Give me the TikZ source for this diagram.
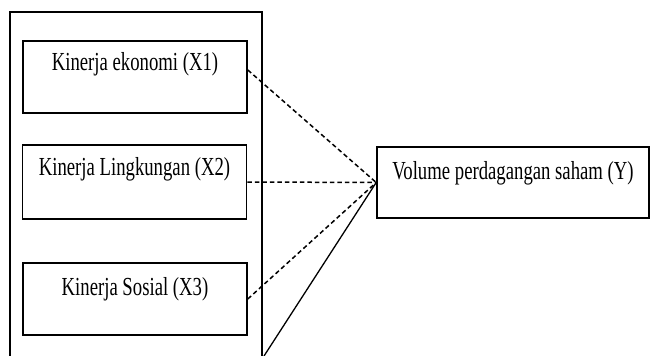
\documentclass[tikz,border=0pt]{standalone}
\usepackage{fontspec}
\setmainfont[FakeStretch=0.72]{Liberation Serif}
\usetikzlibrary{positioning}

\tikzset{
  varbox/.style={draw, line width=1.6pt, minimum width=224pt, minimum height=72pt,
    inner sep=0pt, font=\fontsize{26}{30}\selectfont, text height=13pt, text depth=27pt},
  ybox/.style={varbox, minimum width=272pt, minimum height=71pt, text depth=20pt},
  link/.style={line width=1.5pt, dash pattern=on 4.5pt off 3pt}
}

\begin{document}
\begin{tikzpicture}[x=1pt,y=-1pt]
\useasboundingbox (0,0) rectangle (651,356);

\coordinate (BL) at (10,356);
\coordinate (TL) at (10,12);
\coordinate (TR) at (262,12);
\coordinate (BR) at (262,356);
\coordinate (cut) at (264,356);

\draw[line width=1.3pt] (BL)--(TL)--(TR)--(BR);

\node[varbox] (x1) at (135,77) {Kinerja ekonomi (X1)};
\node[varbox, minimum height=74pt, text depth=25.5pt] (x2) at (134.5,182) {Kinerja Lingkungan (X2)};
\node[varbox, text depth=21pt] (x3) at (135,299) {Kinerja Sosial (X3)};
\node[ybox] (y) at (513,182.5) {Volume perdagangan saham (Y)};

\draw[link] ([yshift=7pt]x1.east) -- (y.west);
\draw[link] (x2.east) -- (y.west);
\draw[link] (x3.east) -- (y.west);
\draw[line width=1.3pt] (y.west) -- (cut);

\end{tikzpicture}
\end{document}
